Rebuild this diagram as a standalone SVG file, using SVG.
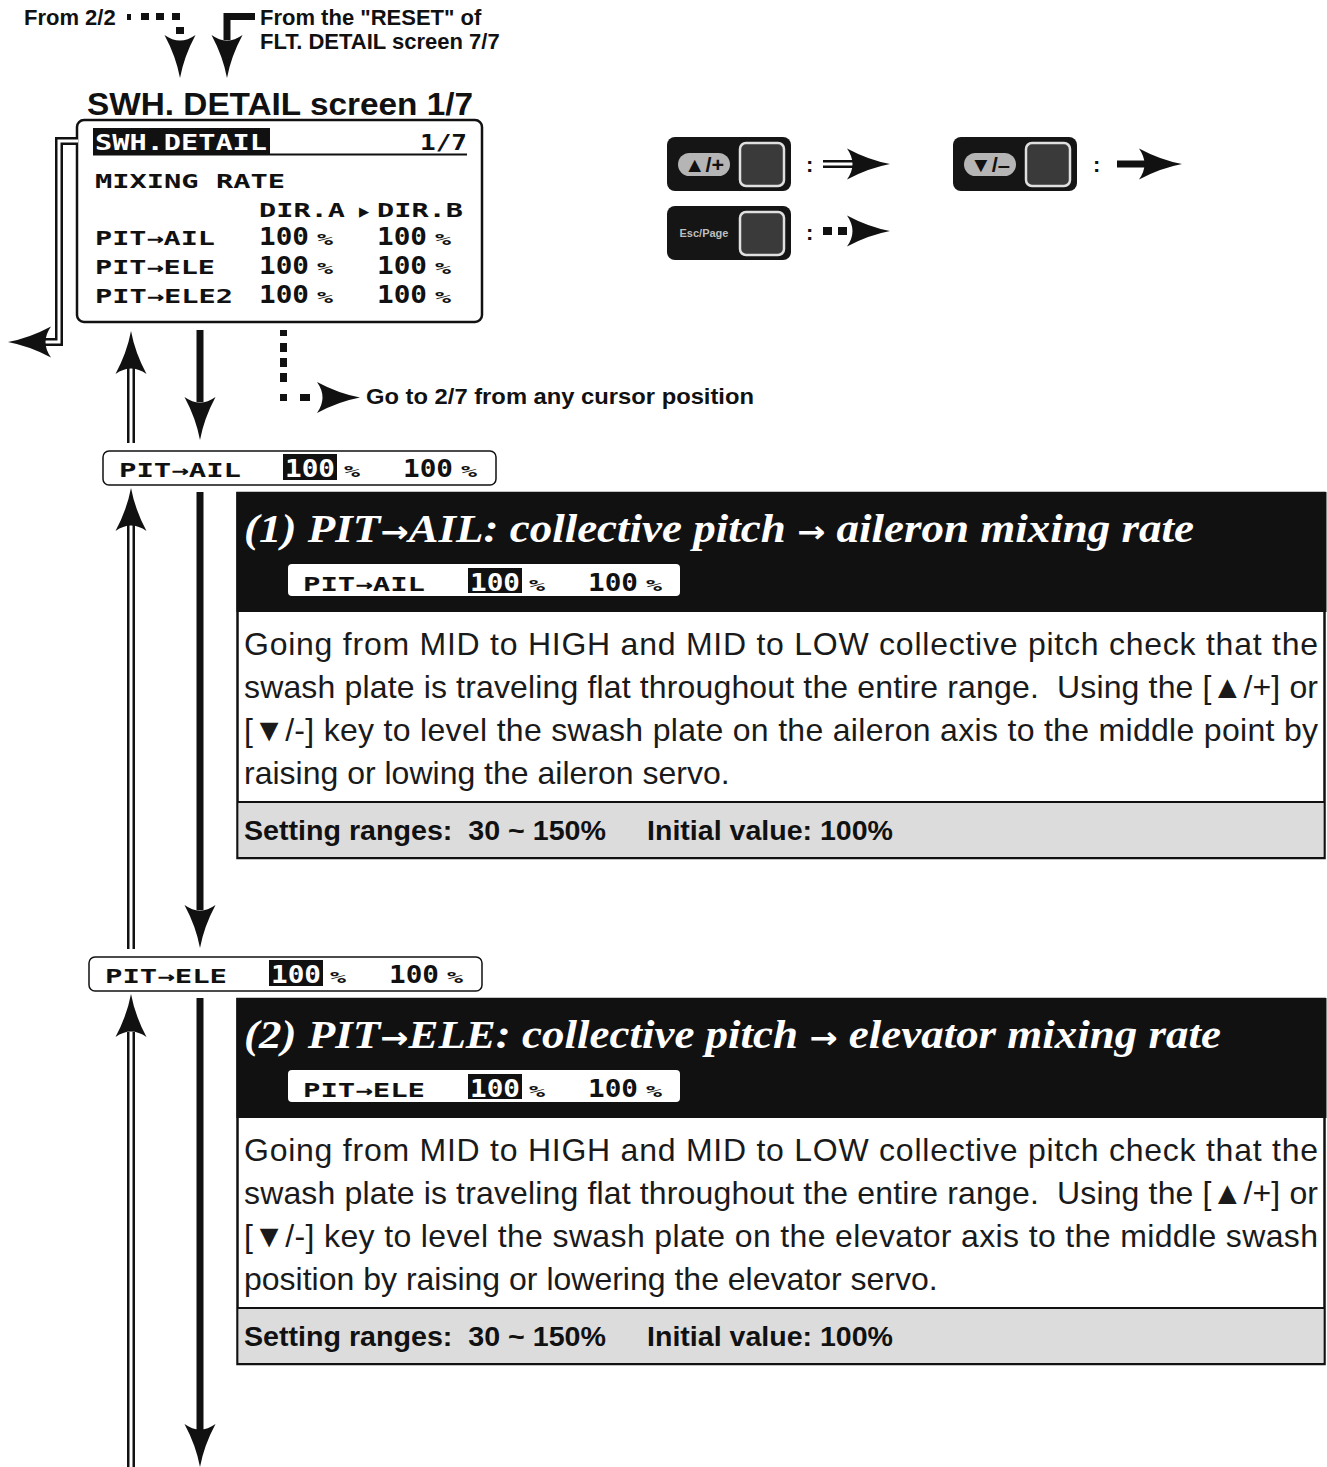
<svg xmlns="http://www.w3.org/2000/svg" xmlns:xlink="http://www.w3.org/1999/xlink" width="1327" height="1467" viewBox="0 0 1327 1467">
<style>
.t{font-family:"Liberation Sans",Arial,sans-serif;fill:#111}
.b{font-weight:bold}
.lcd{font-family:"DejaVu Sans Mono",monospace;font-weight:bold;fill:#111}
.lw{fill:#fff}
.ttl{font-family:"Liberation Serif","Times New Roman",serif;font-style:italic;font-weight:bold;fill:#fff;font-size:40px}
.arr{font-family:"DejaVu Sans",sans-serif;font-style:normal;font-weight:bold;font-size:30px}
.body{font-family:"Liberation Sans",Arial,sans-serif;font-size:32px;fill:#1a1a1a}
.set{font-family:"Liberation Sans",Arial,sans-serif;font-weight:bold;font-size:27px;fill:#111}
.dblo{fill:none;stroke:#111;stroke-width:8}
.dbli{fill:none;stroke:#fff;stroke-width:3}
.sol{fill:none;stroke:#111;stroke-width:7}
.ah{fill:#111}
.dot{fill:#111}
</style>
<defs>
<path id="ah" d="M0,0 Q-21.5,-4 -43,-15.5 Q-32,0 -43,15.5 Q-21.5,4 0,0 Z"/>
</defs>

<!-- top labels -->
<g id="lbl-from22"><text class="t b" x="24" y="25" font-size="22">From 2/2</text></g>
<g id="lbl-reset"><text class="t b" x="260" y="25" font-size="22">From the "RESET" of</text><text class="t b" x="260" y="49" font-size="22">FLT. DETAIL screen 7/7</text></g>
<g id="lbl-title"><text class="t b" x="87" y="115" font-size="32" textLength="386" lengthAdjust="spacingAndGlyphs">SWH. DETAIL screen 1/7</text></g>

<!-- main screen -->
<g id="screen">
<rect x="77" y="120" width="405" height="202" rx="7" fill="#fff" stroke="#111" stroke-width="2.5"/>
<rect x="93" y="128" width="177" height="26" fill="#111"/>
<line x1="93" y1="154.5" x2="467" y2="154.5" stroke="#111" stroke-width="2"/>
<text class="lcd lw" x="95" y="150" font-size="22" textLength="172" lengthAdjust="spacingAndGlyphs">SWH.DETAIL</text>
<text class="lcd" x="420" y="150" font-size="22" textLength="47" lengthAdjust="spacingAndGlyphs">1/7</text>
<text class="lcd" x="95" y="188" font-size="20" textLength="190" lengthAdjust="spacingAndGlyphs">MIXING RATE</text>
<text class="lcd" x="259" y="217" font-size="19" textLength="86" lengthAdjust="spacingAndGlyphs">DIR.A</text>
<text class="lcd" x="359" y="217" font-size="17">▶</text>
<text class="lcd" x="377" y="217" font-size="19" textLength="86" lengthAdjust="spacingAndGlyphs">DIR.B</text>
<text class="lcd" x="95" y="245" font-size="20" textLength="120" lengthAdjust="spacingAndGlyphs">PIT→AIL</text>
<text class="lcd" x="259" y="245" font-size="25" textLength="50" lengthAdjust="spacingAndGlyphs">100</text>
<text class="lcd" x="317" y="245" font-size="16" textLength="16" lengthAdjust="spacingAndGlyphs">%</text>
<text class="lcd" x="377" y="245" font-size="25" textLength="50" lengthAdjust="spacingAndGlyphs">100</text>
<text class="lcd" x="435" y="245" font-size="16" textLength="16" lengthAdjust="spacingAndGlyphs">%</text>
<text class="lcd" x="95" y="274" font-size="20" textLength="120" lengthAdjust="spacingAndGlyphs">PIT→ELE</text>
<text class="lcd" x="259" y="274" font-size="25" textLength="50" lengthAdjust="spacingAndGlyphs">100</text>
<text class="lcd" x="317" y="274" font-size="16" textLength="16" lengthAdjust="spacingAndGlyphs">%</text>
<text class="lcd" x="377" y="274" font-size="25" textLength="50" lengthAdjust="spacingAndGlyphs">100</text>
<text class="lcd" x="435" y="274" font-size="16" textLength="16" lengthAdjust="spacingAndGlyphs">%</text>
<text class="lcd" x="95" y="303" font-size="20" textLength="138" lengthAdjust="spacingAndGlyphs">PIT→ELE2</text>
<text class="lcd" x="259" y="303" font-size="25" textLength="50" lengthAdjust="spacingAndGlyphs">100</text>
<text class="lcd" x="317" y="303" font-size="16" textLength="16" lengthAdjust="spacingAndGlyphs">%</text>
<text class="lcd" x="377" y="303" font-size="25" textLength="50" lengthAdjust="spacingAndGlyphs">100</text>
<text class="lcd" x="435" y="303" font-size="16" textLength="16" lengthAdjust="spacingAndGlyphs">%</text>
</g>

<!-- key legend -->
<g id="key-up">
<rect x="667" y="137" width="124" height="54" rx="8" fill="#151515"/>
<rect x="678" y="153" width="52" height="23" rx="11.5" fill="#b5b5b5"/>
<text class="t b" x="704" y="172" font-size="21" text-anchor="middle" textLength="40" lengthAdjust="spacingAndGlyphs">▲/+</text>
<rect x="740" y="143" width="44" height="43" rx="6" fill="#3a3a3a" stroke="#e0e0e0" stroke-width="2.5"/>
</g>
<g id="key-down">
<rect x="953" y="137" width="124" height="54" rx="8" fill="#151515"/>
<rect x="964" y="153" width="52" height="23" rx="11.5" fill="#b5b5b5"/>
<text class="t b" x="990" y="172" font-size="21" text-anchor="middle" textLength="40" lengthAdjust="spacingAndGlyphs">▼/–</text>
<rect x="1026" y="143" width="44" height="43" rx="6" fill="#3a3a3a" stroke="#e0e0e0" stroke-width="2.5"/>
</g>
<g id="key-esc">
<rect x="667" y="206" width="124" height="54" rx="8" fill="#151515"/>
<text class="t b" x="704" y="237" font-size="11" text-anchor="middle" style="fill:#bdbdbd">Esc/Page</text>
<rect x="740" y="212" width="44" height="43" rx="6" fill="#3a3a3a" stroke="#e0e0e0" stroke-width="2.5"/>
</g>
<g id="legend-colons">
<text class="t b" x="806" y="172" font-size="22">:</text>
<text class="t b" x="1093" y="172" font-size="22">:</text>
<text class="t b" x="806" y="240" font-size="22">:</text>
</g>

<!-- go to label -->
<g id="lbl-goto"><text class="t b" x="366" y="404" font-size="22" textLength="388" lengthAdjust="spacingAndGlyphs">Go to 2/7 from any cursor position</text></g>

<!-- bar 1 -->
<g id="bar-ail" transform="translate(103,451)">
<rect x="0" y="0" width="393" height="34" rx="6" fill="#fff" stroke="#111" stroke-width="1.5"/>
<text class="lcd" x="16" y="26" font-size="20" textLength="122" lengthAdjust="spacingAndGlyphs">PIT→AIL</text>
<rect x="180" y="3" width="54" height="26" fill="#111"/>
<text class="lcd lw" x="182" y="26" font-size="25" textLength="50" lengthAdjust="spacingAndGlyphs">100</text>
<text class="lcd" x="241" y="26" font-size="16" textLength="16" lengthAdjust="spacingAndGlyphs">%</text>
<text class="lcd" x="300" y="26" font-size="25" textLength="50" lengthAdjust="spacingAndGlyphs">100</text>
<text class="lcd" x="358" y="26" font-size="16" textLength="16" lengthAdjust="spacingAndGlyphs">%</text>
</g>

<!-- panel 1 -->
<g id="panel-ail">
<rect x="237.5" y="493" width="1087" height="365" fill="#fff" stroke="#111" stroke-width="2.5"/>
<rect x="236.5" y="492" width="1090" height="120" fill="#111"/>
<rect x="238.5" y="802" width="1085" height="55" fill="#dcdcdc"/>
<line x1="237" y1="802" x2="1325" y2="802" stroke="#111" stroke-width="2"/>
<text class="ttl" x="244" y="542" textLength="950" lengthAdjust="spacingAndGlyphs">(1) PIT<tspan class="arr">→</tspan>AIL: collective pitch <tspan class="arr">→</tspan> aileron mixing rate</text>
<g transform="translate(288,564)">
<rect x="0" y="0" width="392" height="32" rx="4" fill="#fff"/>
<text class="lcd" x="15" y="27" font-size="20" textLength="122" lengthAdjust="spacingAndGlyphs">PIT→AIL</text>
<rect x="180" y="4" width="54" height="25" fill="#111"/>
<text class="lcd lw" x="182" y="27" font-size="25" textLength="50" lengthAdjust="spacingAndGlyphs">100</text>
<text class="lcd" x="241" y="27" font-size="16" textLength="16" lengthAdjust="spacingAndGlyphs">%</text>
<text class="lcd" x="300" y="27" font-size="25" textLength="50" lengthAdjust="spacingAndGlyphs">100</text>
<text class="lcd" x="358" y="27" font-size="16" textLength="16" lengthAdjust="spacingAndGlyphs">%</text>
</g>
<text class="body" x="244" y="655" textLength="1074" lengthAdjust="spacing">Going from MID to HIGH and MID to LOW collective pitch check that the</text>
<text class="body" x="244" y="698" textLength="1074" lengthAdjust="spacing" xml:space="preserve">swash plate is traveling flat throughout the entire range.  Using the [▲/+] or</text>
<text class="body" x="244" y="741" textLength="1074" lengthAdjust="spacing">[▼/-] key to level the swash plate on the aileron axis to the middle point by</text>
<text class="body" x="244" y="784">raising or lowing the aileron servo.</text>
<text class="set" x="244" y="840" textLength="362" lengthAdjust="spacingAndGlyphs" xml:space="preserve">Setting ranges:  30 ~ 150%</text>
<text class="set" x="647" y="840" textLength="246" lengthAdjust="spacingAndGlyphs">Initial value: 100%</text>
</g>

<!-- bar 2 -->
<g id="bar-ele" transform="translate(89,957)">
<rect x="0" y="0" width="393" height="34" rx="6" fill="#fff" stroke="#111" stroke-width="1.5"/>
<text class="lcd" x="16" y="26" font-size="20" textLength="122" lengthAdjust="spacingAndGlyphs">PIT→ELE</text>
<rect x="180" y="3" width="54" height="26" fill="#111"/>
<text class="lcd lw" x="182" y="26" font-size="25" textLength="50" lengthAdjust="spacingAndGlyphs">100</text>
<text class="lcd" x="241" y="26" font-size="16" textLength="16" lengthAdjust="spacingAndGlyphs">%</text>
<text class="lcd" x="300" y="26" font-size="25" textLength="50" lengthAdjust="spacingAndGlyphs">100</text>
<text class="lcd" x="358" y="26" font-size="16" textLength="16" lengthAdjust="spacingAndGlyphs">%</text>
</g>

<!-- panel 2 -->
<g id="panel-ele">
<rect x="237.5" y="999" width="1087" height="365" fill="#fff" stroke="#111" stroke-width="2.5"/>
<rect x="236.5" y="998" width="1090" height="120" fill="#111"/>
<rect x="238.5" y="1308" width="1085" height="55" fill="#dcdcdc"/>
<line x1="237" y1="1308" x2="1325" y2="1308" stroke="#111" stroke-width="2"/>
<text class="ttl" x="244" y="1048" textLength="977" lengthAdjust="spacingAndGlyphs">(2) PIT<tspan class="arr">→</tspan>ELE: collective pitch <tspan class="arr">→</tspan> elevator mixing rate</text>
<g transform="translate(288,1070)">
<rect x="0" y="0" width="392" height="32" rx="4" fill="#fff"/>
<text class="lcd" x="15" y="27" font-size="20" textLength="122" lengthAdjust="spacingAndGlyphs">PIT→ELE</text>
<rect x="180" y="4" width="54" height="25" fill="#111"/>
<text class="lcd lw" x="182" y="27" font-size="25" textLength="50" lengthAdjust="spacingAndGlyphs">100</text>
<text class="lcd" x="241" y="27" font-size="16" textLength="16" lengthAdjust="spacingAndGlyphs">%</text>
<text class="lcd" x="300" y="27" font-size="25" textLength="50" lengthAdjust="spacingAndGlyphs">100</text>
<text class="lcd" x="358" y="27" font-size="16" textLength="16" lengthAdjust="spacingAndGlyphs">%</text>
</g>
<text class="body" x="244" y="1161" textLength="1074" lengthAdjust="spacing">Going from MID to HIGH and MID to LOW collective pitch check that the</text>
<text class="body" x="244" y="1204" textLength="1074" lengthAdjust="spacing" xml:space="preserve">swash plate is traveling flat throughout the entire range.  Using the [▲/+] or</text>
<text class="body" x="244" y="1247" textLength="1074" lengthAdjust="spacing">[▼/-] key to level the swash plate on the elevator axis to the middle swash</text>
<text class="body" x="244" y="1290">position by raising or lowering the elevator servo.</text>
<text class="set" x="244" y="1346" textLength="362" lengthAdjust="spacingAndGlyphs" xml:space="preserve">Setting ranges:  30 ~ 150%</text>
<text class="set" x="647" y="1346" textLength="246" lengthAdjust="spacingAndGlyphs">Initial value: 100%</text>
</g>

<!-- connectors -->
<g id="connectors">
<rect class="dot" x="127" y="14" width="4" height="6"/>
<rect class="dot" x="141" y="13" width="8" height="7"/>
<rect class="dot" x="156" y="13" width="8" height="7"/>
<rect class="dot" x="172" y="13" width="8" height="7"/>
<rect class="dot" x="176" y="27" width="8" height="7"/>
<use href="#ah" class="ah" transform="translate(180,78) rotate(90)"/>
<path class="sol" d="M255,16.5 H227 V40"/>
<use href="#ah" class="ah" transform="translate(227,78) rotate(90)"/>
<path class="dblo" d="M77,141 H59 V342 H44"/>
<path class="dbli" d="M78,141 H59 V342 H44"/>
<use href="#ah" class="ah" transform="translate(8,342) rotate(180)"/>
<path class="dblo" d="M131,443 V368"/>
<path class="dbli" d="M131,443 V368"/>
<use href="#ah" class="ah" transform="translate(131,331) rotate(-90)"/>
<path class="sol" d="M200,330 V402"/>
<use href="#ah" class="ah" transform="translate(200,440) rotate(90)"/>
<rect class="dot" x="280" y="330" width="7" height="6"/>
<rect class="dot" x="280" y="343" width="7" height="9"/>
<rect class="dot" x="280" y="358" width="7" height="9"/>
<rect class="dot" x="280" y="373" width="7" height="9"/>
<rect class="dot" x="280" y="394" width="7" height="7"/>
<rect class="dot" x="300" y="394" width="10" height="7"/>
<use href="#ah" class="ah" transform="translate(360,397.5)"/>
<path class="dblo" d="M131,949 V525"/>
<path class="dbli" d="M131,949 V525"/>
<use href="#ah" class="ah" transform="translate(131,488) rotate(-90)"/>
<path class="sol" d="M200,492 V910"/>
<use href="#ah" class="ah" transform="translate(200,948) rotate(90)"/>
<path class="dblo" d="M131,1467 V1032"/>
<path class="dbli" d="M131,1468 V1032"/>
<use href="#ah" class="ah" transform="translate(131,994) rotate(-90)"/>
<path class="sol" d="M200,998 V1430"/>
<use href="#ah" class="ah" transform="translate(200,1467) rotate(90)"/>
<path class="dblo" d="M823,164 H853"/>
<path class="dbli" d="M822,164 H853"/>
<use href="#ah" class="ah" transform="translate(890,164)"/>
<path class="sol" d="M1117,164 H1145"/>
<use href="#ah" class="ah" transform="translate(1182,164)"/>
<rect class="dot" x="823" y="227" width="9" height="8"/>
<rect class="dot" x="838" y="227" width="9" height="8"/>
<use href="#ah" class="ah" transform="translate(890,231)"/>
</g>
</svg>
